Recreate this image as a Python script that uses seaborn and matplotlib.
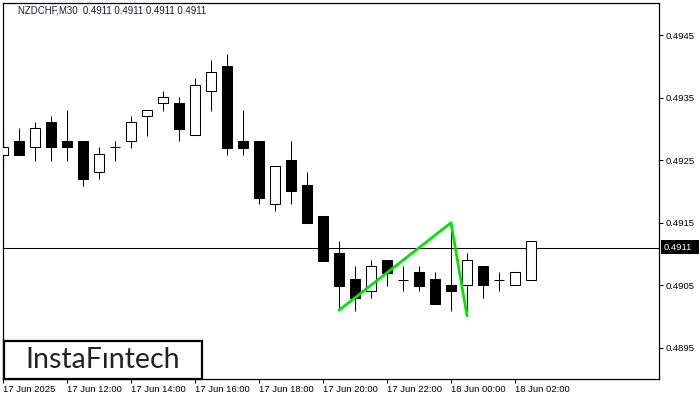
import numpy as np
import pandas as pd
import matplotlib
matplotlib.use("Agg")
import matplotlib.pyplot as plt
import seaborn as sns
from matplotlib.patches import Rectangle

# ---- data (NZDCHF, M30) ----
times = ["17 Jun 10:00", "17 Jun 10:30", "17 Jun 11:00", "17 Jun 11:30", "17 Jun 12:00", "17 Jun 12:30",
         "17 Jun 13:00", "17 Jun 13:30", "17 Jun 14:00", "17 Jun 14:30", "17 Jun 15:00", "17 Jun 15:30",
         "17 Jun 16:00", "17 Jun 16:30", "17 Jun 17:00", "17 Jun 17:30", "17 Jun 18:00", "17 Jun 18:30",
         "17 Jun 19:00", "17 Jun 19:30", "17 Jun 20:00", "17 Jun 20:30", "17 Jun 21:00", "17 Jun 21:30",
         "17 Jun 22:00", "17 Jun 22:30", "17 Jun 23:00", "17 Jun 23:30", "18 Jun 00:00", "18 Jun 00:30",
         "18 Jun 01:00", "18 Jun 01:30", "18 Jun 02:00", "18 Jun 02:30"]
opens = [0.49259, 0.49281, 0.49271, 0.49311, 0.49280, 0.49280, 0.49231, 0.49271, 0.49280, 0.49320,
         0.49341, 0.49341, 0.49290, 0.49360, 0.49401, 0.49281, 0.49281, 0.49180, 0.49250, 0.49210,
         0.49161, 0.49102, 0.49060, 0.49040, 0.49090, 0.49059, 0.49071, 0.49060, 0.49050, 0.49050,
         0.49081, 0.49059, 0.49050, 0.49059]
highs = [0.49301, 0.49302, 0.49311, 0.49321, 0.49330, 0.49280, 0.49271, 0.49281, 0.49321, 0.49330,
         0.49361, 0.49351, 0.49382, 0.49410, 0.49420, 0.49330, 0.49281, 0.49241, 0.49281, 0.49231,
         0.49161, 0.49121, 0.49081, 0.49090, 0.49090, 0.49081, 0.49081, 0.49071, 0.49150, 0.49102,
         0.49081, 0.49071, 0.49071, 0.49120]
lows = [0.49240, 0.49259, 0.49249, 0.49249, 0.49249, 0.49209, 0.49220, 0.49249, 0.49270, 0.49289,
        0.49329, 0.49280, 0.49290, 0.49329, 0.49259, 0.49258, 0.49180, 0.49169, 0.49180, 0.49150,
        0.49089, 0.49010, 0.49009, 0.49030, 0.49049, 0.49040, 0.49040, 0.49020, 0.49009, 0.49009,
        0.49030, 0.49040, 0.49050, 0.49059]
closes = [0.49271, 0.49259, 0.49301, 0.49271, 0.49271, 0.49220, 0.49260, 0.49271, 0.49311, 0.49330,
          0.49351, 0.49300, 0.49370, 0.49391, 0.49270, 0.49270, 0.49190, 0.49241, 0.49200, 0.49150,
          0.49089, 0.49049, 0.49030, 0.49080, 0.49070, 0.49059, 0.49049, 0.49020, 0.49040, 0.49090,
          0.49050, 0.49059, 0.49071, 0.49120]

# pattern line (bar index, price)
pattern_idx = [21, 28, 29]
pattern_price = [0.49010, 0.49150, 0.49001]

current_price = 0.4911
y_ticks = [0.4895, 0.4905, 0.4915, 0.4925, 0.4935, 0.4945]
x_tick_idx = [0, 4, 8, 12, 16, 20, 24, 28, 32]
x_tick_labels = ["17 Jun 2025", "17 Jun 12:00", "17 Jun 14:00", "17 Jun 16:00", "17 Jun 18:00",
                 "17 Jun 20:00", "17 Jun 22:00", "18 Jun 00:00", "18 Jun 02:00"]
header = "NZDCHF,M30  0.4911 0.4911 0.4911 0.4911"

# ---- figure ----
sns.set_style("white")
plt.rcParams["font.family"] = ["Liberation Sans", "DejaVu Sans"]

W, H = 700, 400
fig = plt.figure(figsize=(7, 4), dpi=100)
fig.patch.set_facecolor("white")
ax = fig.add_axes([3 / W, 21 / H, 656 / W, 376 / H])

df = pd.DataFrame({"time": times, "open": opens, "high": highs, "low": lows, "close": closes})
df["idx"] = np.arange(len(df))
up = df["close"] >= df["open"]

ax.vlines(df["idx"], df["low"], df["high"], color="black", lw=0.75, zorder=2)
bottoms = np.minimum(df["open"], df["close"])
heights = (df["close"] - df["open"]).abs()
ax.bar(df["idx"], heights, bottom=bottoms, width=0.68,
       color=np.where(up, "white", "black"), edgecolor="black", linewidth=0.75, zorder=3)

ax.axhline(current_price, color="black", lw=0.75, zorder=1)

sns.lineplot(x=pattern_idx, y=pattern_price, color="#00e600", lw=2, ax=ax, zorder=4)

ax.set_xlim(0, 41)
ax.set_ylim(0.48900, 0.495015)

ax.yaxis.tick_right()
ax.set_yticks(y_ticks)
ax.set_yticklabels([f"{v:.4f}" for v in y_ticks])
ax.set_xticks(x_tick_idx)
ax.set_xticklabels(x_tick_labels, ha="left")
ax.tick_params(axis="y", direction="out", length=3, width=0.75, labelsize=6.8, pad=2,
               right=True, left=False, colors="black")
ax.tick_params(axis="x", direction="out", length=3, width=0.75, labelsize=6.8, pad=1.5,
               bottom=True, colors="black")
ax.set_xlabel("")
ax.set_ylabel("")
for s in ax.spines.values():
    s.set_visible(True)
    s.set_color("black")
    s.set_linewidth(0.9)

# header
fig.text(18 / W, 1 - 10.5 / H, header, fontsize=6.9, color="#1b1b2f", va="center", ha="left")

# current price label
fig.patches.append(Rectangle((661 / W, 1 - 254 / H), 38 / W, 14 / H, transform=fig.transFigure,
                             facecolor="black", edgecolor="none", zorder=5))
fig.text(664 / W, 1 - 247.5 / H, "0.4911", color="white", fontsize=6.8, va="center", ha="left", zorder=6)

# logo
fig.patches.append(Rectangle((3.5 / W, 1 - 379 / H), 198 / W, 38 / H, transform=fig.transFigure,
                             facecolor="white", edgecolor="black", linewidth=1.6, zorder=5))
fig.text(102.5 / W, 1 - 368 / H, "InstaF\u0131ntech", fontsize=20.5, color="#222222",
         ha="center", va="baseline", family=["Lato", "DejaVu Sans"], zorder=6)

fig.savefig("out.png", dpi=100, facecolor="white")
